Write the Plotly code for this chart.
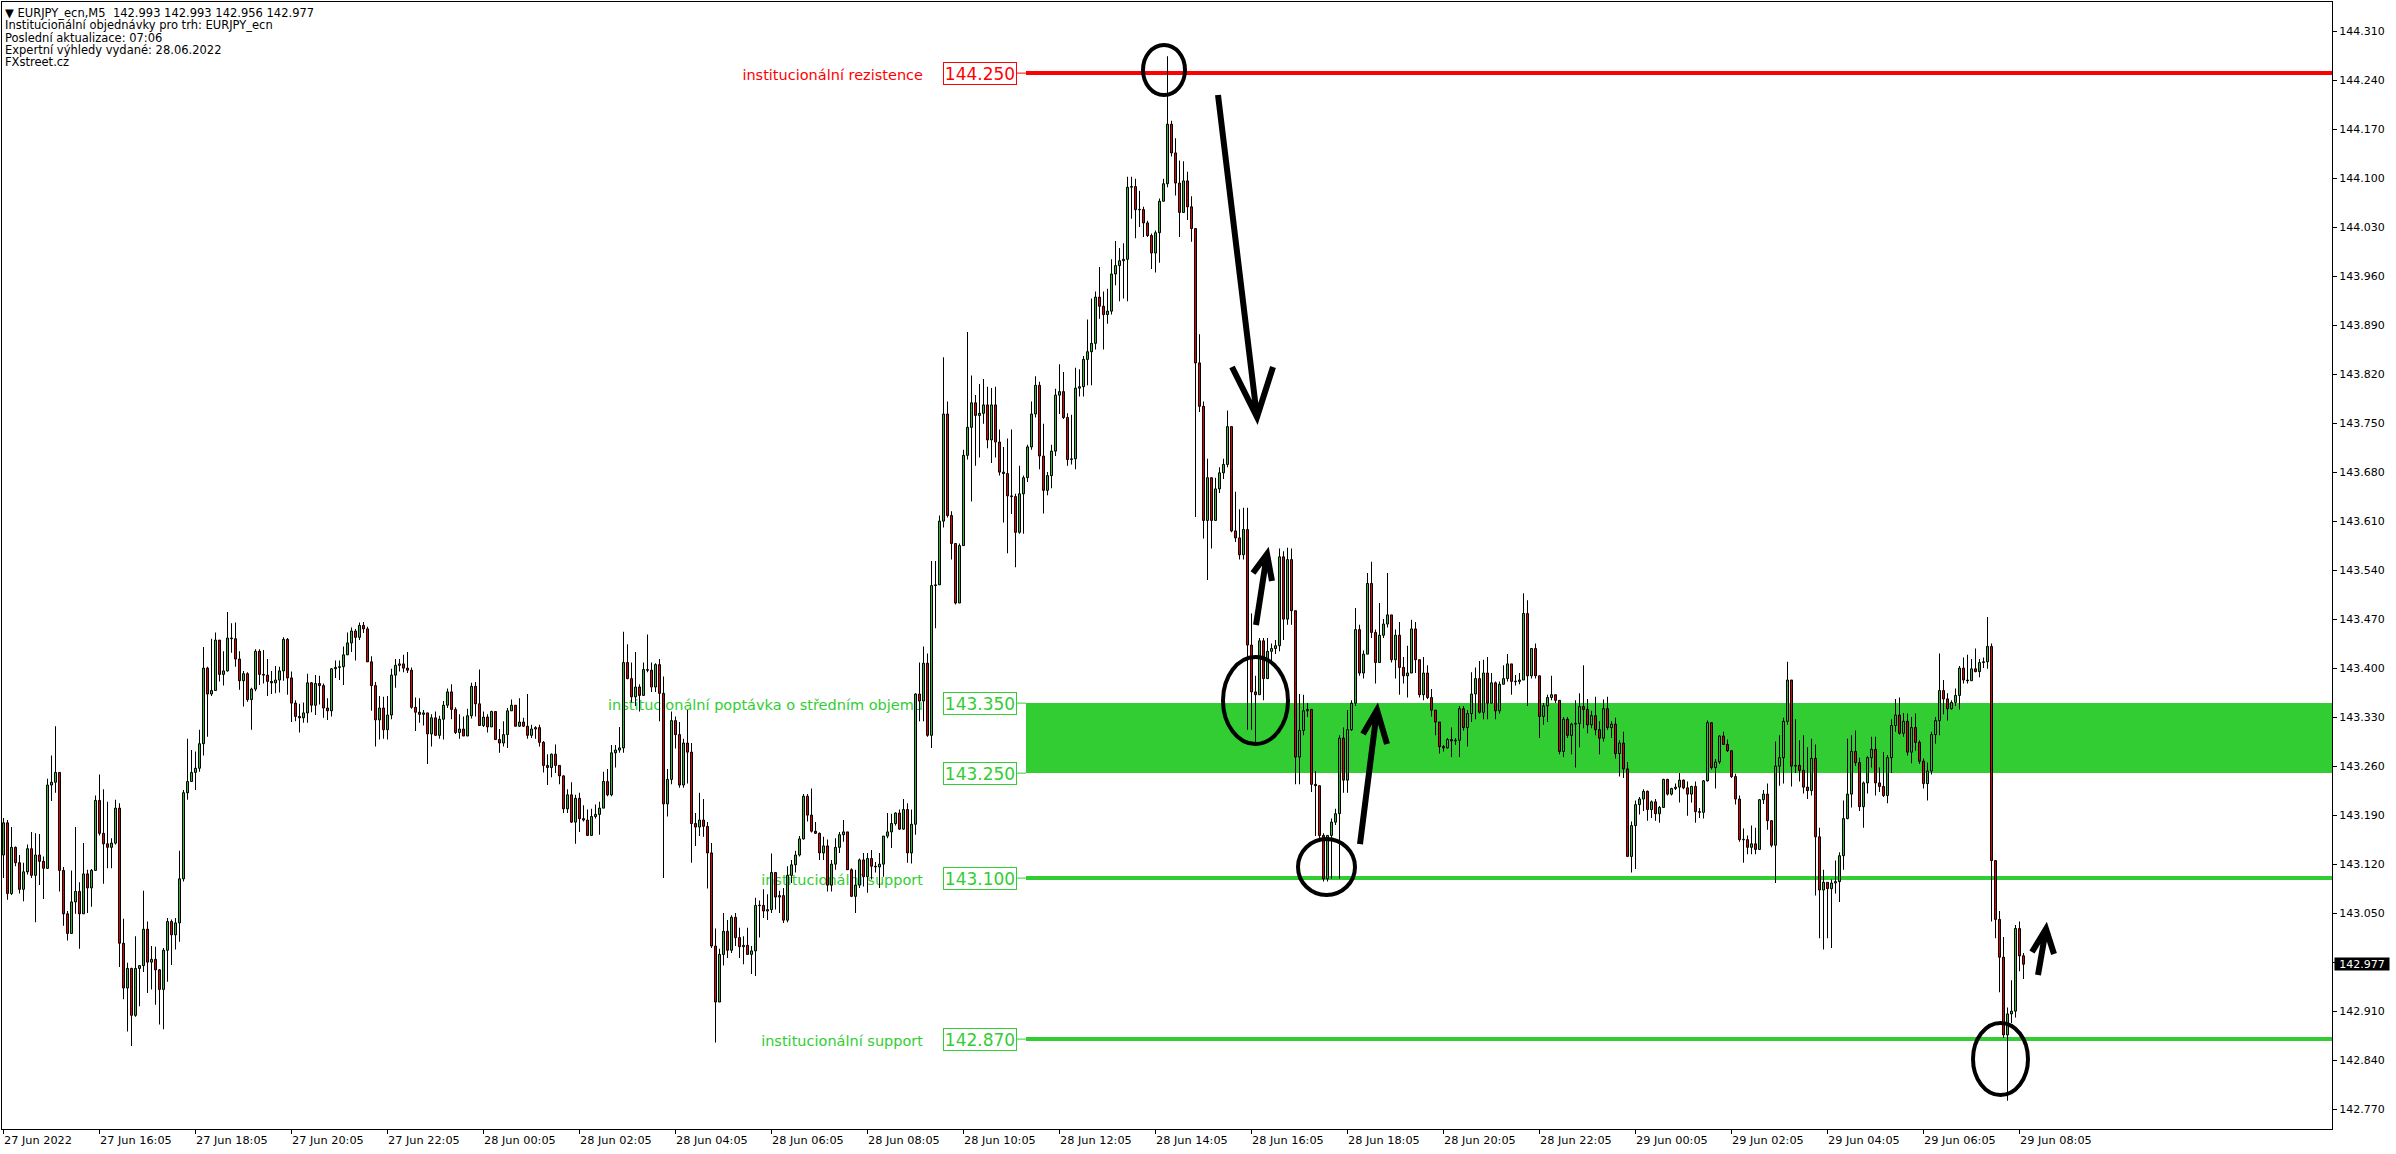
import numpy as np
import pandas as pd
import plotly.graph_objects as go

# ---------------- DATA (prices in thousandths above 142.000) ----------------
PRICE_BASE = 142.0
first_open = 1133

close_27 = [1179,1078,1144,1122,1084,1109,1142,1104,1133,1124,
            1114,1233,1237,1251,1111,1049,1021,1066,1081,1049,
            1106,1086,1111,1211,1164,1149,1144,1150,1200,1007,
            943,971,904,971,975,1027,980,984,969,941,
            997,1038,1019,1036,1099,1222,1238,1251,1257,1292,
            1400,1363,1368,1440,1391,1396,1443,1442,1413,1382,
            1392,1355,1370,1424,1391,1390,1381,1379,1383,1396,
            1441,1386,1350,1331,1329,1336,1379,1347,1378,1375,
            1343,1339,1399,1401,1402,1419,1436,1453,1444,1461,
            1456,1409,1375,1326,1343,1312,1333,1390,1404,1406,
            1400,1397,1344,1337,1334,1336,1306,1329,1304,1327,
            1347,1366,1341,1308,1313,1303,1332,1374,1349]
high_27 = [1186,1183,1173,1145,1133,1122,1148,1166,1164,1163,
           1131,1242,1275,1317,1251,1116,1053,1111,1173,1094,
           1150,1112,1113,1218,1248,1227,1209,1157,1212,1207,
           1042,979,972,1017,975,1082,1038,1003,1002,970,
           1000,1043,1041,1043,1139,1226,1299,1283,1281,1312,
           1430,1402,1442,1451,1437,1424,1480,1464,1465,1424,
           1396,1394,1372,1427,1427,1426,1413,1396,1403,1402,
           1444,1443,1395,1354,1349,1351,1392,1380,1390,1389,
           1378,1357,1400,1411,1411,1431,1451,1458,1456,1465,
           1466,1459,1417,1380,1360,1359,1360,1399,1413,1413,
           1419,1423,1401,1358,1357,1340,1336,1334,1338,1332,
           1353,1371,1377,1344,1334,1331,1342,1379,1380]
low_27 = [1100,1069,1076,1117,1078,1067,1105,1100,1037,1090,
          1070,1113,1210,1222,1081,1032,1011,1020,1049,999,
          1049,1050,1059,1117,1161,1092,1114,1114,1148,973,
          927,881,860,902,917,966,936,941,919,891,
          884,952,976,998,1009,1095,1212,1238,1226,1252,
          1275,1302,1360,1371,1381,1375,1395,1422,1402,1369,
          1345,1352,1312,1367,1376,1378,1360,1363,1364,1365,
          1382,1362,1323,1324,1308,1322,1322,1337,1333,1348,
          1329,1326,1331,1386,1383,1376,1419,1423,1411,1440,
          1450,1409,1339,1288,1298,1299,1298,1327,1372,1395,
          1394,1393,1342,1310,1322,1318,1263,1288,1303,1299,
          1298,1343,1327,1306,1299,1303,1303,1328,1331]

close_28 = [1318,1330,1316,1338,1298,1293,1305,1339,1347,1317,
            1323,1317,1304,1313,1315,1294,1261,1258,1277,1261,
            1246,1199,1219,1180,1214,1185,1183,1161,1188,1191,
            1200,1238,1219,1279,1283,1286,1408,1385,1359,1373,
            1361,1398,1397,1373,1405,1364,1206,1241,1325,1305,
            1233,1293,1280,1178,1173,1183,1174,1136,1003,923,
            991,1024,997,1044,1015,1002,1004,991,996,1061,
            1061,1053,1055,1108,1073,1075,1040,1104,1119,1133,
            1156,1217,1190,1167,1164,1136,1146,1090,1120,1144,
            1162,1166,1112,1074,1090,1126,1102,1128,1117,1116,
            1120,1160,1166,1178,1193,1170,1198,1136,1177,1363,
            1353,1407,1304,1518,1519,1610,1763,1618,1578,1493,
            1575,1704,1744,1779,1761,1764,1776,1726,1776,1723,
            1680,1678,1646,1645,1594,1649,1672,1716,1763,1804,
            1703,1654,1675,1710,1790,1795,1758,1698,1699,1800,
            1802,1841,1852,1864,1930,1917,1905,1910,1963,1975,
            1982,1984,2087,2088,2055,2055,2036,2018,1993,2022,
            2067,2092,2177,2136,2093,2051,2096,2059,2028,1836,
            1774,1611,1672,1611,1656,1679,1691,1745,1596,1586,
            1562,1598,1433,1366,1362,1439,1385,1424,1428,1432,
            1559,1470,1555,1482,1273,1311,1339,1341,1234,1232,
            1161,1099,1161,1180,1192,1300,1240,1312,1350,1455,
            1393,1420,1521,1451,1408,1447,1463,1476,1412,1447,
            1401,1389,1393,1456,1412,1362,1393,1358,1340,1323,
            1288,1286,1298,1296,1297,1342,1315,1335,1363,1385,
            1337,1393,1350,1379,1339,1377,1385,1406,1381,1381,
            1383,1478,1389,1428,1389,1331,1346,1358,1362,1354,
            1281,1327,1304,1320,1321,1345,1341,1319,1332,1312,
            1300,1342,1315,1320,1278,1293,1256,1131]
high_28 = [1398,1338,1334,1339,1338,1313,1324,1343,1355,1346,
           1357,1329,1363,1319,1317,1319,1296,1277,1278,1291,
           1261,1247,1227,1237,1219,1222,1204,1198,1199,1205,
           1209,1252,1256,1290,1290,1316,1452,1434,1408,1423,
           1377,1408,1448,1408,1407,1413,1388,1256,1338,1331,
           1323,1299,1340,1293,1193,1222,1213,1180,1150,1028,
           999,1050,1040,1047,1050,1029,1017,1029,1003,1072,
           1068,1084,1077,1135,1108,1082,1086,1117,1126,1139,
           1160,1220,1220,1228,1180,1165,1159,1155,1126,1157,
           1166,1183,1166,1114,1112,1128,1136,1136,1140,1123,
           1136,1160,1193,1192,1194,1198,1213,1207,1198,1364,
           1408,1431,1421,1553,1553,1618,1844,1781,1624,1578,
           1578,1712,1880,1818,1790,1806,1813,1802,1800,1802,
           1741,1716,1728,1741,1649,1689,1675,1719,1781,1817,
           1809,1749,1680,1719,1799,1834,1823,1764,1762,1829,
           1827,1846,1898,1928,1938,1973,1938,1942,1984,2010,
           2000,2007,2102,2102,2099,2082,2059,2039,2021,2025,
           2071,2099,2274,2182,2157,2125,2124,2109,2074,2028,
           1877,1781,1699,1672,1672,1687,1699,1768,1745,1652,
           1627,1629,1629,1478,1389,1443,1443,1443,1435,1440,
           1571,1567,1572,1571,1478,1363,1362,1350,1341,1253,
           1231,1164,1161,1185,1199,1304,1315,1340,1354,1486,
           1462,1425,1536,1552,1455,1493,1470,1536,1476,1455,
           1466,1416,1432,1469,1466,1412,1416,1404,1370,1340,
           1323,1290,1300,1315,1300,1346,1346,1340,1394,1401,
           1410,1412,1416,1393,1381,1381,1404,1420,1406,1390,
           1393,1507,1497,1428,1435,1389,1350,1362,1389,1362,
           1354,1330,1330,1322,1354,1364,1404,1356,1339,1359,
           1324,1355,1359,1324,1329,1297,1309,1266]
low_28 = [1318,1316,1308,1316,1298,1279,1288,1286,1339,1317,
          1316,1316,1299,1300,1299,1288,1251,1233,1244,1250,
          1234,1193,1193,1179,1149,1166,1181,1160,1160,1185,
          1162,1200,1217,1217,1258,1279,1279,1384,1351,1346,
          1338,1365,1394,1366,1366,1324,1100,1188,1234,1285,
          1229,1229,1235,1122,1146,1160,1159,1085,1000,865,
          923,975,986,993,1003,986,977,991,963,960,
          1015,1043,1040,1050,1055,1050,1036,1037,1093,1108,
          1131,1155,1181,1165,1163,1126,1126,1081,1081,1112,
          1136,1152,1112,1073,1050,1086,1088,1079,1098,1108,
          1086,1102,1157,1143,1175,1169,1169,1122,1121,1162,
          1324,1324,1302,1286,1457,1520,1601,1615,1555,1491,
          1493,1576,1698,1638,1689,1701,1749,1714,1693,1701,
          1675,1608,1564,1620,1544,1592,1592,1666,1712,1758,
          1684,1621,1647,1657,1703,1763,1756,1689,1691,1684,
          1788,1788,1804,1804,1855,1899,1855,1892,1905,1947,
          1924,1928,1924,2042,2014,2030,2016,2016,1970,1965,
          1979,2067,2087,2131,2075,2016,2050,2040,2009,1616,
          1766,1585,1526,1571,1611,1650,1670,1687,1594,1580,
          1555,1555,1312,1312,1292,1362,1354,1385,1405,1420,
          1424,1440,1462,1462,1234,1234,1304,1330,1223,1160,
          1153,1095,1095,1099,1176,1099,1222,1222,1310,1346,
          1389,1385,1420,1443,1378,1408,1443,1458,1408,1385,
          1362,1378,1358,1393,1393,1358,1354,1356,1331,1304,
          1278,1281,1285,1273,1290,1273,1311,1288,1323,1327,
          1335,1327,1327,1350,1327,1335,1377,1381,1362,1375,
          1377,1383,1346,1385,1385,1300,1319,1323,1354,1350,
          1277,1273,1300,1277,1258,1287,1314,1307,1314,1304,
          1277,1295,1312,1300,1271,1245,1243,1131]

close_29 = [1175,1205,1213,1224,1198,1209,1192,1201,1241,1220,
            1228,1230,1240,1229,1220,1231,1195,1194,1239,1322,
            1258,1266,1303,1291,1282,1245,1213,1155,1155,1144,
            1149,1141,1212,1220,1182,1147,1260,1272,1324,1383,
            1260,1261,1254,1230,1225,1271,1159,1083,1094,1085,
            1093,1095,1132,1185,1220,1281,1265,1202,1236,1272,
            1284,1236,1231,1218,1272,1318,1333,1307,1324,1280,
            1315,1294,1267,1235,1253,1305,1325,1368,1356,1342,
            1351,1361,1400,1383,1382,1399,1395,1408,1409,1431,
            1125,1041,987,876,906,910,1028,989,977]
high_29 = [1181,1211,1216,1227,1225,1211,1213,1203,1242,1242,
           1229,1235,1250,1241,1238,1232,1238,1200,1240,1325,
           1323,1270,1304,1309,1298,1272,1249,1218,1171,1161,
           1175,1172,1213,1226,1235,1182,1295,1304,1329,1409,
           1383,1327,1297,1304,1287,1299,1291,1172,1112,1094,
           1098,1125,1137,1211,1299,1304,1311,1272,1238,1274,
           1302,1302,1258,1280,1276,1327,1356,1358,1336,1335,
           1330,1335,1297,1271,1265,1309,1330,1421,1383,1364,
           1354,1371,1403,1415,1419,1413,1428,1413,1415,1473,
           1435,1125,1053,1016,915,954,1033,1038,993]
low_29 = [1108,1113,1191,1196,1182,1186,1182,1179,1200,1218,
          1218,1226,1208,1227,1189,1208,1179,1186,1185,1238,
          1255,1228,1263,1290,1280,1243,1205,1152,1122,1134,
          1134,1134,1140,1206,1169,1144,1093,1232,1235,1319,
          1231,1250,1238,1221,1213,1218,1075,1014,998,1014,
          1000,1078,1066,1112,1184,1201,1260,1196,1172,1221,
          1258,1218,1223,1216,1207,1250,1309,1305,1302,1275,
          1264,1282,1263,1228,1211,1248,1292,1304,1334,1325,
          1341,1346,1341,1378,1378,1382,1394,1387,1400,1399,
          1038,1014,937,872,782,893,901,967,956]

first_bar_time = "2022-06-27 14:05"
resistance = 144.250
zone_low, zone_high = 143.250, 143.350
support_1 = 143.100
support_2 = 142.870
header_lines = ["\u25bc EURJPY_ecn,M5\u00a0\u00a0142.993 142.993 142.956 142.977",
                "Institucionální objednávky pro trh: EURJPY_ecn",
                "Poslední aktualizace: 07:06",
                "Expertní výhledy vydané: 28.06.2022",
                "FXstreet.cz"]

# ---------------- derived series ----------------
closes = PRICE_BASE + np.array(close_27 + close_28 + close_29) / 1000.0
highs = PRICE_BASE + np.array(high_27 + high_28 + high_29) / 1000.0
lows = PRICE_BASE + np.array(low_27 + low_28 + low_29) / 1000.0
opens = np.concatenate([[PRICE_BASE + first_open / 1000.0], closes[:-1]])
highs = np.maximum.reduce([highs, opens, closes])
lows = np.minimum.reduce([lows, opens, closes])
n = len(closes)
idx = np.arange(n)
times = pd.date_range(first_bar_time, periods=n, freq="5min")

up = closes >= opens
body_lo = np.minimum(opens, closes)
body_h = np.abs(closes - opens)
tiny = 0.0007
body_base = np.where(body_h < tiny, body_lo - tiny / 2, body_lo)
body_h = np.maximum(body_h, tiny)

tick_pos = [i for i, t in enumerate(times) if t.minute == 5 and t.hour % 2 == 0]
tick_txt = [times[i].strftime("%d %b %Y") if k == 0 else times[i].strftime("%d %b %H:%M")
            for k, i in enumerate(tick_pos)]

# ---------------- figure ----------------
W, H = 2396, 1154
ML, MR, MT, MB = 2, 64, 2, 25
PW, PH = W - ML - MR, H - MT - MB
PX_PER_PRICE = 700.0
y_top = 144.3516
y_bot = y_top - PH / PX_PER_PRICE
x_lo = -0.375
x_hi = x_lo + PW / 4.0

def px_x(px):
    return (px - ML) / PW

def px_y(py):
    return 1 - (py - MT) / PH

FONT = "DejaVu Sans"
GREEN = "#32CD32"
RED = "#FF0000"
CANDLE_GREEN = "#30B830"
CANDLE_RED = "#E00000"

fig = go.Figure()
# wicks (thin bars)
fig.add_trace(go.Bar(x=idx, y=highs - lows, base=lows, width=0.25,
                     marker=dict(color="black", line=dict(width=0)), hoverinfo="skip"))
# bodies
fig.add_trace(go.Bar(x=idx[up], y=body_h[up], base=body_base[up], width=0.5,
                     marker=dict(color=CANDLE_GREEN, line=dict(color="black", width=1)),
                     hoverinfo="skip"))
fig.add_trace(go.Bar(x=idx[~up], y=body_h[~up], base=body_base[~up], width=0.5,
                     marker=dict(color=CANDLE_RED, line=dict(color="black", width=1)),
                     hoverinfo="skip"))

shapes = []
x_line0 = px_x(1026)
x_box_r = px_x(1017)
x_box_l = px_x(943)
x_txt_r = px_x(929)
# zone + lines
shapes.append(dict(type="rect", xref="paper", yref="y", x0=x_line0, x1=1, y0=zone_low, y1=zone_high,
                   fillcolor=GREEN, line=dict(width=0), layer="below"))
for lvl, col in [(resistance, RED), (support_1, GREEN), (support_2, GREEN)]:
    shapes.append(dict(type="line", xref="paper", yref="y", x0=x_line0, x1=1, y0=lvl, y1=lvl,
                       line=dict(color=col, width=4), layer="below"))
for lvl, col in [(resistance, RED), (zone_high, GREEN), (zone_low, GREEN), (support_1, GREEN), (support_2, GREEN)]:
    shapes.append(dict(type="line", xref="paper", yref="y", x0=x_box_r, x1=x_line0, y0=lvl, y1=lvl,
                       line=dict(color=col, width=1), layer="below"))
# texts under candles (shape labels)
for lvl, col, txt in [(resistance, RED, "institucionální rezistence"),
                      (zone_high, GREEN, "institucionální poptávka o středním objemu"),
                      (support_1, GREEN, "institucionální support"),
                      (support_2, GREEN, "institucionální support")]:
    shapes.append(dict(type="rect", xref="paper", yref="y", x0=px_x(400), x1=x_txt_r,
                       y0=lvl - 0.01, y1=lvl + 0.01, line=dict(width=0), fillcolor="rgba(0,0,0,0)",
                       layer="below",
                       label=dict(text=txt, textposition="middle right", padding=3,
                                  font=dict(family=FONT, size=14.5, color=col))))

# hand-drawn ellipses
for (x0, x1, y0, y1) in [(1143, 1185, 45, 95), (1223, 1288, 657, 744),
                         (1298, 1355, 839, 895), (1973, 2028, 1023, 1095)]:
    shapes.append(dict(type="circle", xref="paper", yref="paper",
                       x0=px_x(x0), x1=px_x(x1), y0=px_y(y1), y1=px_y(y0),
                       line=dict(color="black", width=4)))

# hand-drawn arrows
def arrow_path(tail, tip, wl, wr):
    pts = lambda p: f"{px_x(p[0]):.5f},{px_y(p[1]):.5f}"
    return f"M {pts(tail)} L {pts(tip)} M {pts(wl)} L {pts(tip)} L {pts(wr)}"

for tail, tip, wl, wr in [((1218, 95), (1257, 417), (1232, 367), (1273, 367)),
                          ((1256, 625), (1267, 554), (1253, 573), (1272, 581)),
                          ((1360, 844), (1377, 710), (1363, 734), (1387, 744)),
                          ((2038, 975), (2046, 929), (2032, 952), (2054, 954))]:
    shapes.append(dict(type="path", xref="paper", yref="paper", path=arrow_path(tail, tip, wl, wr),
                       line=dict(color="black", width=6)))

annotations = []
# price boxes
for lvl, col in [(resistance, RED), (zone_high, GREEN), (zone_low, GREEN), (support_1, GREEN), (support_2, GREEN)]:
    annotations.append(dict(xref="paper", yref="y", x=x_box_l, y=lvl, xanchor="left", yanchor="middle",
                            text=f"{lvl:.3f}", showarrow=False, bgcolor="white",
                            bordercolor=col, borderwidth=1, borderpad=1, width=70, height=19,
                            font=dict(family=FONT, size=17, color=col)))
# current price tag
annotations.append(dict(xref="paper", yref="y", x=1, y=closes[-1], xanchor="left", yanchor="middle",
                        xshift=2, text=f"{closes[-1]:.3f}", showarrow=False, bgcolor="black",
                        borderpad=0, width=54, height=12, font=dict(family=FONT, size=11, color="white")))
# x labels
for p, t in zip(tick_pos, tick_txt):
    annotations.append(dict(xref="x", yref="paper", x=p, y=0, xanchor="left", yanchor="top",
                            yshift=-3, xshift=-2, text=t, showarrow=False,
                            font=dict(family=FONT, size=11.3, color="black")))
# header
for k, line in enumerate(header_lines):
    annotations.append(dict(xref="paper", yref="paper", x=px_x(3), y=px_y(13 + 12.3 * k),
                            xanchor="left", yanchor="middle", text=line, showarrow=False,
                            font=dict(family=FONT, size=11.5, color="black")))

fig.update_layout(
    width=W, height=H, margin=dict(l=ML, r=MR, t=MT, b=MB),
    paper_bgcolor="white", plot_bgcolor="white", showlegend=False, barmode="overlay",
    font=dict(family=FONT, size=11, color="black"), hovermode=False,
    shapes=shapes, annotations=annotations,
    xaxis=dict(range=[x_lo, x_hi], showgrid=False, zeroline=False, showline=True, mirror=True,
               linecolor="black", linewidth=1, ticks="outside", ticklen=4, tickcolor="black",
               tickvals=tick_pos, showticklabels=False, fixedrange=True),
    yaxis=dict(range=[y_bot, y_top], side="right", showgrid=False, zeroline=False, showline=True,
               mirror=True, linecolor="black", linewidth=1, ticks="outside", ticklen=4,
               tickcolor="black", tickmode="linear", tick0=142.770, dtick=0.07, tickformat=".3f",
               tickfont=dict(family=FONT, size=11, color="black"), fixedrange=True),
)

fig.write_html("out.html", config={"displayModeBar": False},
               post_script="document.body.style.margin='0px';document.body.style.overflow='hidden';")
